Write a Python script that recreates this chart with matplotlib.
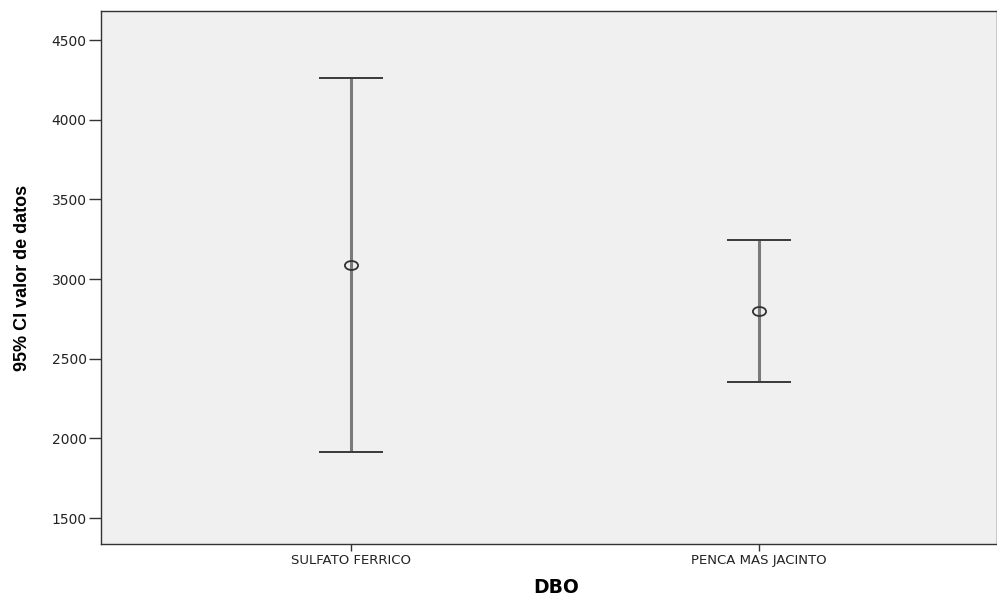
import numpy as np
import matplotlib
matplotlib.use('Agg')
import matplotlib.pyplot as plt
from matplotlib.path import Path
from matplotlib.transforms import Affine2D

# Data (95% CI per group)
groups = ['SULFATO FERRICO', 'PENCA MAS JACINTO']
means = [3088, 2801]
lower = [1916, 2355]
upper = [4263, 3245]
y_ticks = [1500, 2000, 2500, 3000, 3500, 4000, 4500]

fig = plt.figure(figsize=(9.97, 5.95), dpi=100)
ax = fig.add_axes([0.101, 0.0857, 0.899, 0.8958])
ax.set_facecolor('#f0f0f0')

x = np.arange(len(groups))
means = np.array(means)
yerr = np.vstack([means - np.array(lower), np.array(upper) - means])

# slightly flattened open circle, like the SPSS marker
ellipse = Path.unit_circle().transformed(Affine2D().scale(1.0, 0.68))

_, caps, bars = ax.errorbar(x, means, yerr=yerr, fmt='none', ecolor='#7a7a7a',
                            elinewidth=2.2, capsize=22.7, capthick=1.4, zorder=2)
for c in caps:
    c.set_markeredgecolor('#3a3a3a')
ax.plot(x, means, linestyle='none', marker=ellipse, markersize=9.5,
        markerfacecolor='none', markeredgecolor='#333333', markeredgewidth=1.3, zorder=3)

ax.set_xlim(-0.613, 1.583)
ax.set_ylim(1337, 4682)
ax.set_xticks(x)
ax.set_xticklabels(groups, fontsize=9.5, color='#222222')
ax.set_yticks(y_ticks)
ax.set_yticklabels([str(t) for t in y_ticks], fontsize=10, color='#222222')
ax.tick_params(axis='y', length=9, width=1, color='#333333', pad=1)
ax.tick_params(axis='x', length=5, width=1, color='#333333', pad=2)

for s in ax.spines.values():
    s.set_color('#333333')
    s.set_linewidth(1.0)

ax.set_ylabel('95% CI valor de datos', fontsize=13, fontweight='bold',
              family=['Liberation Sans', 'DejaVu Sans'])
ax.yaxis.set_label_coords(-0.078, 0.5)
ax.set_xlabel('DBO', fontsize=13.5, fontweight='bold', va='center')
ax.xaxis.set_label_coords(0.508, -0.0807)

fig.savefig('out.png', dpi=100)
